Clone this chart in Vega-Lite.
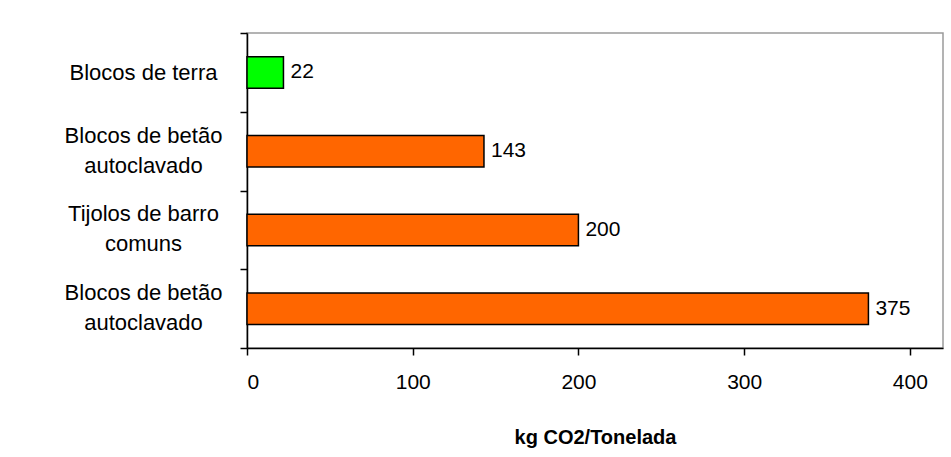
{
  "$schema": "https://vega.github.io/schema/vega-lite/v6.json",
  "width": 696,
  "height": 315,
  "autosize": "none",
  "padding": {"left": 247, "top": 33, "right": 8, "bottom": 109},
  "background": "white",
  "config": {
    "view": {"stroke": "#9a9a9a", "strokeWidth": 1.5},
    "font": "Liberation Sans"
  },
  "data": {
    "values": [
      {"key": "1|Blocos de terra", "valor": 22, "grupo": "Terra"},
      {"key": "2|Blocos de betão|autoclavado", "valor": 143, "grupo": "Outros"},
      {"key": "3|Tijolos de barro|comuns", "valor": 200, "grupo": "Outros"},
      {"key": "4|Blocos de betão|autoclavado", "valor": 375, "grupo": "Outros"}
    ]
  },
  "encoding": {
    "y": {
      "field": "key",
      "type": "nominal",
      "sort": null,
      "scale": {"paddingInner": 0, "paddingOuter": 0},
      "axis": {
        "title": null,
        "labelExpr": "slice(split(datum.label, '|'), 1)",
        "labelAlign": "center",
        "labelBaseline": "middle",
        "labelPadding": 97,
        "labelFontSize": 22,
        "labelLineHeight": 30,
        "labelOffset": {"condition": {"test": "length(split(datum.value, '|')) > 2", "value": -16}, "value": 0},
        "labelColor": "black",
        "labelLimit": 400,
        "tickBand": "extent",
        "tickSize": 7,
        "tickColor": "black",
        "tickWidth": 1.5,
        "domainColor": "black",
        "domainWidth": 1.5
      }
    },
    "x": {
      "field": "valor",
      "type": "quantitative",
      "scale": {"domain": [0, 420], "nice": false},
      "axis": {
        "values": [0, 100, 200, 300, 400],
        "grid": false,
        "title": "kg CO2/Tonelada",
        "titleFontSize": 20,
        "titleFontWeight": "bold",
        "titleColor": "black",
        "titlePadding": 35,
        "labelFontSize": 21,
        "labelColor": "black",
        "labelPadding": 16,
        "tickSize": 7,
        "tickColor": "black",
        "tickWidth": 1.5,
        "domainColor": "black",
        "domainWidth": 1.5
      }
    }
  },
  "layer": [
    {
      "mark": {"type": "bar", "height": {"band": 0.4}, "stroke": "black", "strokeWidth": 1.5},
      "encoding": {
        "color": {
          "field": "grupo",
          "type": "nominal",
          "scale": {"domain": ["Terra", "Outros"], "range": ["#00ff00", "#ff6600"]},
          "legend": null
        }
      }
    },
    {
      "mark": {"type": "text", "align": "left", "baseline": "middle", "dx": 7, "fontSize": 21, "color": "black"},
      "encoding": {"text": {"field": "valor", "type": "quantitative"}}
    }
  ]
}
